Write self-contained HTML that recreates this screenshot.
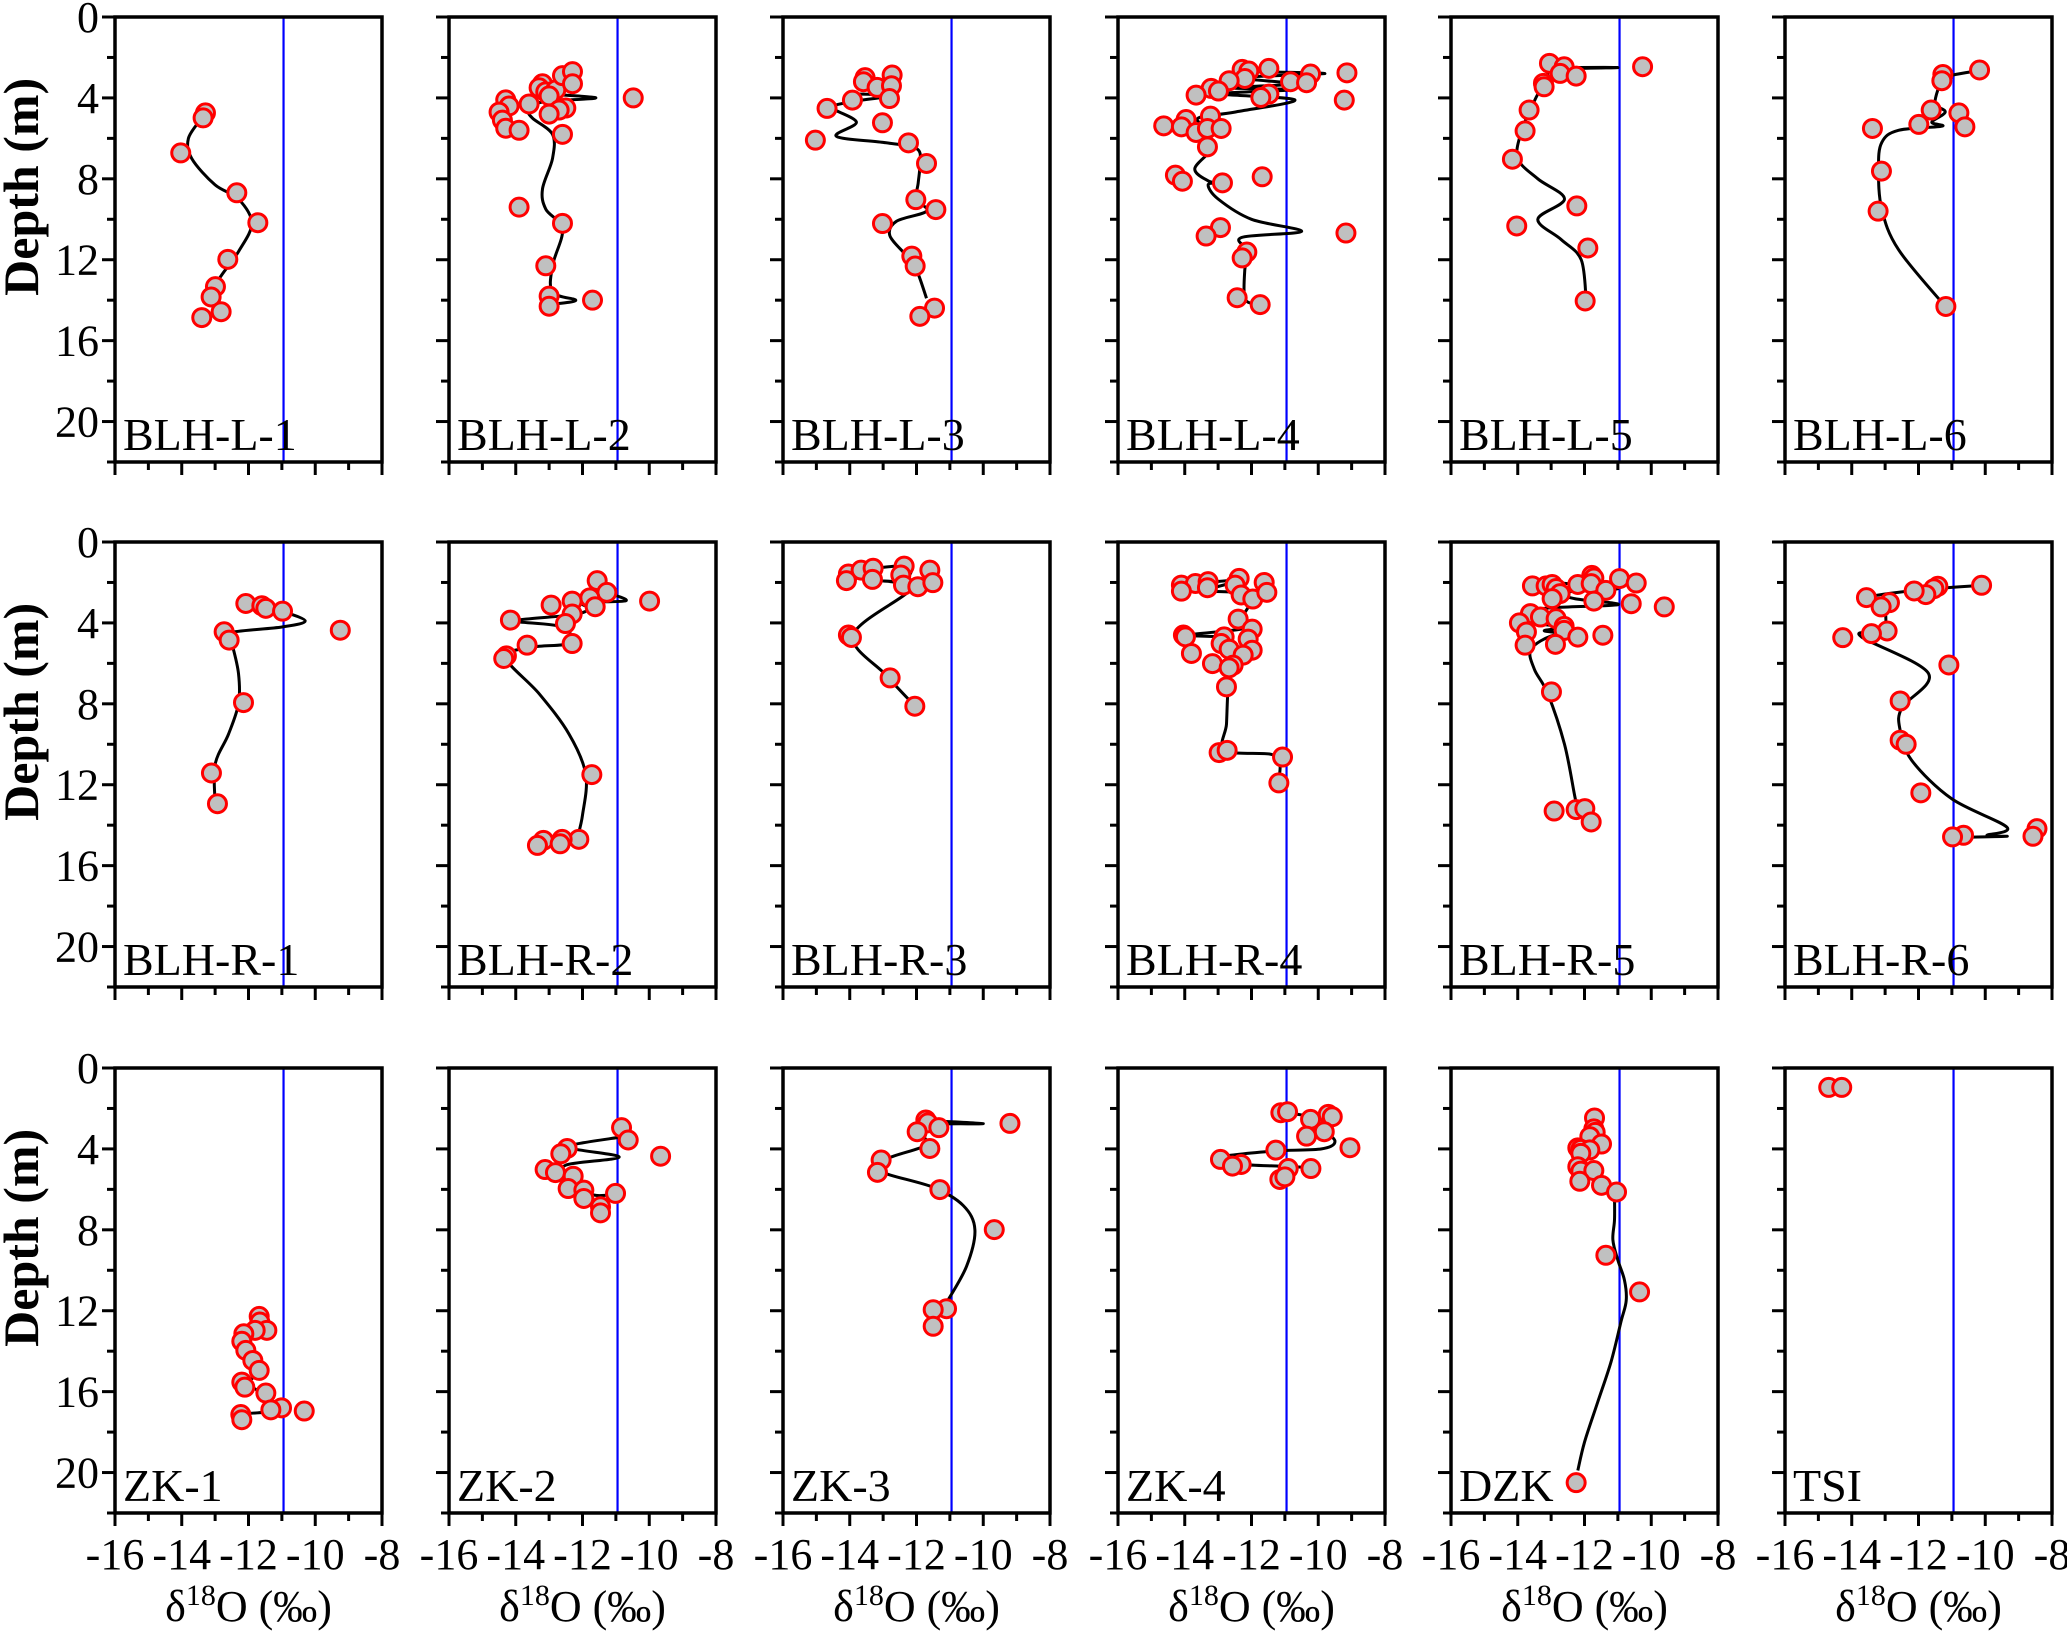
<!DOCTYPE html>
<html><head><meta charset="utf-8">
<style>
html,body{margin:0;padding:0;background:#fff;}
svg{display:block;}
text{font-family:"Liberation Serif","DejaVu Serif",serif;}
</style></head>
<body>
<svg id="chart" width="2067" height="1633" viewBox="0 0 2067 1633" xmlns="http://www.w3.org/2000/svg"></svg>
<script>
// ---- data (x = d18O permil, y = depth m) ----
const panelNames = ["BLH-L-1","BLH-L-2","BLH-L-3","BLH-L-4","BLH-L-5","BLH-L-6","BLH-R-1","BLH-R-2","BLH-R-3","BLH-R-4","BLH-R-5","BLH-R-6","ZK-1","ZK-2","ZK-3","ZK-4","DZK","TSI"];
const xTicks = [-16,-14,-12,-10,-8];
const yTicks = [0,4,8,12,16,20];
const refValue = -10.95;

const ptsL1 = [[-13.29,4.74],[-13.36,4.99],[-14.03,6.72],[-12.35,8.69],[-11.72,10.17],[-12.62,11.98],[-12.99,13.33],[-13.12,13.84],[-12.82,14.57],[-13.4,14.86]];
const crvL1 = [[-13.4,5.0],[-13.8,6.0],[-13.7,7.0],[-13.0,8.3],[-12.3,9.0],[-11.9,10.2],[-12.3,11.6],[-12.9,13.0],[-13.1,14.0]];
const ptsL2 = [[-14.3,4.1],[-14.2,4.4],[-14.5,4.7],[-14.4,5.1],[-14.3,5.5],[-13.9,5.6],[-13.6,4.3],[-13.2,3.3],[-13.3,3.5],[-13.1,3.7],[-12.8,3.6],[-13.0,3.9],[-12.6,2.9],[-12.3,2.7],[-12.3,3.3],[-12.5,4.5],[-12.7,4.6],[-13.0,4.8],[-12.6,5.8],[-10.48,4.0],[-13.9,9.4],[-12.6,10.2],[-13.1,12.3],[-13.0,13.8],[-13.0,14.3],[-11.7,14.0]];
const crvL2 = [[-13.2,3.8],[-11.6,4.0],[-13.2,4.2],[-13.6,4.6],[-13.5,5.0],[-12.9,5.8],[-12.9,7.0],[-13.2,8.5],[-13.1,9.5],[-12.6,10.5],[-12.9,12.3],[-12.9,13.6],[-12.2,14.0],[-12.9,14.2]];
const ptsL3 = [[-13.54,3.0],[-12.73,2.87],[-13.59,3.2],[-13.18,3.48],[-12.75,3.4],[-13.92,4.11],[-12.81,4.03],[-14.68,4.52],[-13.02,5.23],[-15.03,6.09],[-12.24,6.22],[-11.7,7.24],[-12.02,9.03],[-11.42,9.52],[-13.02,10.21],[-12.14,11.82],[-12.04,12.31],[-11.46,14.39],[-11.9,14.8]];
const crvL3 = [[-13.9,3.8],[-12.8,3.9],[-14.0,4.2],[-14.5,4.5],[-13.8,5.2],[-14.4,5.9],[-13.0,6.2],[-12.0,6.5],[-11.9,7.3],[-11.95,8.2],[-12.0,9.0],[-11.7,9.6],[-12.6,10.1],[-12.8,10.8],[-12.3,11.8],[-12.0,12.5],[-11.7,13.9]];
const ptsL4 = [[-12.28,2.59],[-12.08,2.67],[-11.48,2.54],[-10.23,2.82],[-9.14,2.76],[-12.2,3.04],[-12.67,3.15],[-10.83,3.2],[-10.35,3.25],[-13.21,3.53],[-12.99,3.66],[-11.48,3.81],[-11.72,3.98],[-13.66,3.86],[-9.22,4.11],[-13.96,5.07],[-13.23,4.9],[-14.63,5.38],[-14.1,5.43],[-13.66,5.71],[-13.32,5.51],[-12.91,5.51],[-13.32,6.42],[-14.28,7.82],[-14.07,8.12],[-12.87,8.2],[-11.68,7.9],[-12.93,10.41],[-13.36,10.83],[-12.14,11.62],[-12.28,11.91],[-12.43,13.88],[-11.74,14.22],[-9.17,10.68]];
const crvL4 = [[-12.1,2.7],[-9.8,2.8],[-12.3,3.0],[-10.8,3.3],[-12.6,3.5],[-10.8,3.6],[-12.9,3.8],[-10.7,4.1],[-12.5,4.7],[-13.6,5.0],[-13.3,5.6],[-13.2,6.5],[-13.7,7.5],[-13.3,8.1],[-13.0,8.2],[-13.3,8.3],[-13.0,9.0],[-12.0,10.0],[-10.5,10.6],[-12.3,10.9],[-12.1,11.6],[-12.2,12.5],[-12.2,13.9],[-11.9,14.2]];
const ptsL5 = [[-13.05,2.29],[-12.61,2.46],[-10.26,2.46],[-12.73,2.79],[-12.25,2.92],[-13.23,3.28],[-13.21,3.45],[-13.66,4.6],[-13.78,5.63],[-14.16,7.03],[-12.23,9.34],[-14.03,10.33],[-11.9,11.42],[-11.98,14.04]];
const crvL5 = [[-12.8,2.5],[-11.0,2.5],[-12.9,2.6],[-13.1,3.0],[-13.3,3.5],[-13.6,4.5],[-13.9,5.7],[-14.0,7.0],[-13.4,8.0],[-12.6,9.0],[-13.4,10.0],[-12.7,11.0],[-12.1,12.0],[-11.95,14.0]];
const ptsL6 = [[-11.27,2.84],[-11.3,3.15],[-10.17,2.62],[-11.62,4.6],[-10.79,4.74],[-10.61,5.43],[-11.99,5.31],[-13.38,5.51],[-13.11,7.62],[-13.21,9.6],[-11.18,14.31]];
const crvL6 = [[-10.2,2.65],[-11.27,3.0],[-11.4,3.5],[-11.5,4.3],[-11.2,4.7],[-11.6,5.2],[-11.3,5.4],[-12.6,5.6],[-13.1,6.2],[-13.2,7.5],[-13.1,9.5],[-12.6,11.5],[-11.2,14.3]];
const ptsR1 = [[-12.08,3.04],[-11.6,3.15],[-11.48,3.28],[-10.98,3.42],[-9.25,4.36],[-12.73,4.44],[-12.58,4.85],[-12.15,7.94],[-13.11,11.42],[-12.93,12.94]];
const crvR1 = [[-10.98,3.42],[-10.3,3.9],[-11.0,4.2],[-12.6,4.5],[-12.5,5.0],[-12.3,6.5],[-12.3,8.0],[-12.6,9.5],[-13.0,11.0],[-13.0,12.9]];
const ptsR2 = [[-11.56,1.91],[-11.27,2.49],[-9.99,2.92],[-11.78,2.76],[-12.31,2.92],[-12.94,3.12],[-11.62,3.2],[-12.31,3.56],[-12.51,4.03],[-14.16,3.86],[-12.31,5.02],[-13.66,5.1],[-14.28,5.63],[-14.36,5.76],[-11.72,11.5],[-12.11,14.7],[-12.61,14.7],[-13.17,14.75],[-13.35,15.0],[-12.67,14.92]];
const crvR2 = [[-11.3,2.5],[-10.7,2.9],[-12.0,3.0],[-11.8,3.3],[-12.3,3.6],[-14.0,3.9],[-12.6,4.2],[-12.4,5.0],[-13.5,5.2],[-14.3,5.7],[-13.3,7.5],[-12.4,9.5],[-11.9,11.5],[-12.0,13.5],[-12.15,14.6]];
const ptsR3 = [[-14.04,1.58],[-13.66,1.39],[-13.3,1.3],[-12.37,1.19],[-11.6,1.39],[-14.1,1.91],[-13.32,1.85],[-12.47,1.63],[-12.39,2.13],[-11.96,2.21],[-11.51,2.01],[-14.04,4.6],[-13.95,4.72],[-12.79,6.72],[-12.05,8.12]];
const crvR3 = [[-13.3,1.3],[-12.2,1.2],[-12.4,1.9],[-13.3,1.9],[-12.6,2.0],[-12.2,2.4],[-13.9,4.6],[-12.9,6.6],[-12.05,8.1]];
const ptsR4 = [[-14.1,2.13],[-13.68,2.05],[-13.3,1.96],[-12.37,1.8],[-11.62,2.0],[-14.1,2.43],[-13.32,2.26],[-12.49,2.13],[-12.31,2.62],[-11.96,2.82],[-11.54,2.49],[-12.4,3.81],[-11.98,4.31],[-14.04,4.6],[-13.98,4.69],[-12.82,4.69],[-12.1,4.8],[-12.91,5.02],[-12.67,5.3],[-11.98,5.35],[-12.25,5.59],[-13.8,5.51],[-13.17,6.01],[-12.55,6.09],[-12.67,6.22],[-12.75,7.16],[-12.97,10.41],[-12.73,10.3],[-11.07,10.63],[-11.18,11.91]];
const crvR4 = [[-13.3,2.0],[-12.5,1.9],[-13.0,2.2],[-13.8,2.4],[-12.4,2.5],[-12.0,2.8],[-12.2,3.5],[-12.4,4.0],[-12.3,4.3],[-13.9,4.6],[-12.9,4.7],[-12.6,5.0],[-12.6,6.0],[-12.7,7.2],[-12.75,9.0],[-12.8,10.3],[-11.4,10.5],[-11.15,11.0],[-11.2,11.9]];
const ptsR5 = [[-13.56,2.17],[-13.15,2.17],[-12.97,2.1],[-12.85,2.3],[-12.73,2.55],[-12.2,2.1],[-11.78,1.65],[-11.72,1.78],[-11.8,2.06],[-11.36,2.39],[-10.95,1.81],[-10.45,2.03],[-12.97,2.8],[-11.72,2.92],[-10.6,3.05],[-9.61,3.21],[-13.62,3.54],[-13.32,3.71],[-12.85,3.79],[-13.95,4.0],[-13.74,4.45],[-12.61,4.17],[-12.61,4.37],[-12.2,4.7],[-11.45,4.61],[-13.78,5.1],[-12.87,5.06],[-12.99,7.41],[-12.91,13.3],[-12.25,13.23],[-11.99,13.18],[-11.8,13.84]];
const crvR5 = [[-12.9,2.0],[-11.0,2.3],[-12.7,2.5],[-12.3,2.8],[-11.0,3.1],[-13.3,3.3],[-12.9,3.8],[-13.6,4.0],[-12.6,4.2],[-13.2,4.4],[-12.0,4.6],[-12.9,4.6],[-13.6,5.3],[-13.5,6.3],[-13.1,7.5],[-12.6,10.0],[-12.3,12.5],[-12.2,13.3]];
const ptsR6 = [[-10.11,2.14],[-11.42,2.19],[-11.54,2.31],[-11.78,2.6],[-12.13,2.42],[-13.56,2.75],[-12.87,3.0],[-13.12,3.21],[-12.94,4.4],[-13.41,4.53],[-14.27,4.73],[-11.09,6.08],[-12.55,7.86],[-12.55,9.8],[-12.37,10.0],[-11.93,12.4],[-8.45,14.17],[-8.57,14.55],[-10.65,14.5],[-10.98,14.58]];
const crvR6 = [[-10.1,2.14],[-12.1,2.39],[-13.56,2.75],[-12.9,3.0],[-13.0,3.2],[-13.0,4.1],[-13.4,4.45],[-13.7,4.7],[-11.7,6.5],[-12.5,8.2],[-12.55,9.3],[-12.2,10.8],[-11.0,12.7],[-9.35,14.1],[-9.95,14.5],[-9.35,14.55],[-10.65,14.6]];
const ptsZ1 = [[-11.68,12.28],[-11.66,12.56],[-11.45,12.97],[-11.8,12.97],[-12.14,13.14],[-12.2,13.51],[-12.08,13.96],[-11.87,14.46],[-11.68,14.95],[-12.2,15.53],[-12.11,15.78],[-11.48,16.07],[-11.01,16.8],[-11.33,16.9],[-10.33,16.96],[-12.23,17.13],[-12.2,17.39]];
const crvZ1 = [[-11.7,12.3],[-11.9,12.9],[-12.1,13.5],[-11.9,14.4],[-11.7,15.0],[-12.0,15.6],[-11.6,16.1],[-11.3,16.9],[-12.2,17.1]];
const ptsZ2 = [[-10.83,2.95],[-10.63,3.56],[-9.66,4.36],[-12.46,3.98],[-12.65,4.24],[-13.12,5.02],[-12.81,5.17],[-12.28,5.35],[-12.43,5.96],[-11.96,6.04],[-11.01,6.2],[-11.96,6.45],[-11.46,6.86],[-11.46,7.16]];
const crvZ2 = [[-10.8,3.4],[-12.4,3.9],[-10.9,4.4],[-12.5,4.8],[-12.4,5.4],[-12.1,6.0],[-11.6,6.3],[-11.05,6.25]];
const ptsZ3 = [[-11.72,2.57],[-11.66,2.71],[-9.2,2.74],[-11.33,2.95],[-11.98,3.15],[-11.6,3.98],[-13.06,4.55],[-13.17,5.16],[-11.3,6.01],[-9.67,7.99],[-11.1,11.9],[-11.5,11.95],[-11.5,12.77]];
const crvZ3 = [[-11.7,2.6],[-10.0,2.75],[-11.6,2.8],[-11.9,3.2],[-11.7,3.8],[-12.9,4.5],[-13.1,5.1],[-11.5,5.9],[-10.6,6.8],[-10.25,8.0],[-10.5,9.8],[-11.1,11.6]];
const ptsZ4 = [[-11.12,2.21],[-10.92,2.16],[-10.23,2.54],[-9.7,2.29],[-9.58,2.41],[-9.82,3.15],[-10.35,3.37],[-11.27,4.06],[-9.05,3.94],[-12.93,4.52],[-12.31,4.77],[-12.57,4.85],[-10.9,4.97],[-10.22,4.97],[-11.15,5.51],[-11.0,5.38]];
const crvZ4 = [[-11.1,2.2],[-10.3,2.4],[-10.0,2.9],[-9.5,3.6],[-9.9,4.0],[-11.3,4.1],[-12.9,4.4],[-12.3,4.75],[-11.2,4.85],[-10.5,4.9]];
const ptsDZK = [[-11.7,2.47],[-11.72,3.01],[-11.68,3.18],[-11.84,3.39],[-11.49,3.76],[-12.2,3.95],[-12.11,4.02],[-11.84,4.05],[-12.11,4.22],[-12.2,4.88],[-12.11,5.1],[-11.72,5.07],[-12.14,5.6],[-11.49,5.8],[-11.04,6.13],[-11.36,9.26],[-10.35,11.07],[-12.25,20.5]];
const crvDZK = [[-11.1,6.3],[-11.1,7.5],[-11.15,8.5],[-11.0,9.5],[-10.8,10.5],[-10.75,11.5],[-10.9,12.5],[-11.2,14.5],[-11.6,16.5],[-12.0,18.5],[-12.2,19.9]];
const ptsTSI = [[-14.69,0.96],[-14.3,0.96]];
const crvTSI = [];

const allPts = [ptsL1,ptsL2,ptsL3,ptsL4,ptsL5,ptsL6,ptsR1,ptsR2,ptsR3,ptsR4,ptsR5,ptsR6,ptsZ1,ptsZ2,ptsZ3,ptsZ4,ptsDZK,ptsTSI];
const allCrv = [crvL1,crvL2,crvL3,crvL4,crvL5,crvL6,crvR1,crvR2,crvR3,crvR4,crvR5,crvR6,crvZ1,crvZ2,crvZ3,crvZ4,crvDZK,crvTSI];

// ---- layout ----
const colLeft = [115,449,783,1118,1451,1785];
const rowTop = [17,542,1068];
const PW = 267, PH = 445, XMIN=-16, XMAX=-8, YMAX=22;
const FONT = "'Liberation Serif', 'DejaVu Serif', serif";
const NS = "http://www.w3.org/2000/svg";
const svg = document.getElementById('chart');
function mk(tag, attrs, parent){
  const e = document.createElementNS(NS, tag);
  for (const k in attrs) e.setAttribute(k, attrs[k]);
  if (tag === 'text') e.style.fontFamily = FONT;
  (parent||svg).appendChild(e); return e;
}
function catmull(p){
  if (p.length<2) return "";
  let d = "M"+p[0][0]+","+p[0][1];
  for (let i=0;i<p.length-1;i++){
    const p0=p[i-1]||p[i], p1=p[i], p2=p[i+1], p3=p[i+2]||p2;
    const c1x=p1[0]+(p2[0]-p0[0])/6, c1y=p1[1]+(p2[1]-p0[1])/6;
    const c2x=p2[0]-(p3[0]-p1[0])/6, c2y=p2[1]-(p3[1]-p1[1])/6;
    d += " C"+c1x.toFixed(1)+","+c1y.toFixed(1)+" "+c2x.toFixed(1)+","+c2y.toFixed(1)+" "+p2[0].toFixed(1)+","+p2[1].toFixed(1);
  }
  return d;
}

panelNames.forEach((name, i) => {
  const r = Math.floor(i/6), c = i%6;
  const L = colLeft[c], T = rowTop[r];
  const xs = v => L + (v - XMIN)/(XMAX-XMIN)*PW;
  const ys = v => T + v/YMAX*PH;
  const g = mk('g', {});
  
  
  const ref = mk('line', {x1:xs(refValue), x2:xs(refValue), y1:T, y2:T+PH, stroke:'#0000ff', 'stroke-width':2.2}, g);
  
  
  const cp = allCrv[i].map(p => [xs(p[0]), ys(p[1])]);
  if (cp.length){
    const path = mk('path', {d:catmull(cp), fill:'none', stroke:'#000', 'stroke-width':3}, g);
    
    
  }
  allPts[i].forEach(p => {
    const ci = mk('circle', {cx:xs(p[0]), cy:ys(p[1]), r:9, fill:'#c0c0c0', stroke:'#ff0000', 'stroke-width':3}, g);
    
    
  });
  const fr = mk('rect', {x:L, y:T, width:PW, height:PH, fill:'none', stroke:'#000', 'stroke-width':3.5}, g);
  
  
  for (let v=XMIN; v<=XMAX; v+=1){
    const major = (v%2===0);
    mk('line', {x1:xs(v), x2:xs(v), y1:T+PH, y2:T+PH+(major?13:8), stroke:'#000', 'stroke-width':3}, g);
  }
  for (let v=0; v<=YMAX; v+=2){
    const major = (v%4===0);
    mk('line', {x1:L, x2:L-(major?13:8), y1:ys(v), y2:ys(v), stroke:'#000', 'stroke-width':3}, g);
  }
  if (r===2){
    xTicks.forEach(v => {
      const t = mk('text', {x:xs(v), y:T+PH+56, 'text-anchor':'middle', 'font-size':44}, g);
      t.textContent = String(v);
      
      
    });
    const xt = mk('text', {x:L+PW/2, y:T+PH+108, 'text-anchor':'middle', 'font-size':44}, g);
    xt.innerHTML = 'δ<tspan dy="-16" font-size="30">18</tspan><tspan dy="16">O (‰)</tspan>';
    
    
  }
  if (c===0){
    yTicks.forEach(v => {
      const t = mk('text', {x:L-16, y:ys(v)+15, 'text-anchor':'end', 'font-size':44}, g);
      t.textContent = String(v);
      
      
    });
    const yt = mk('text', {x:0, y:0, 'text-anchor':'middle', 'font-size':50, 'font-weight':'bold', transform:'translate(38,'+(ys(8)+8)+') rotate(-90)'}, g);
    yt.textContent = 'Depth (m)';
    
    
  }
  const lb = mk('text', {x:L+8, y:T+PH-12, 'font-size':46}, g);
  lb.textContent = name;
  
  
});
</script>
</body></html>
